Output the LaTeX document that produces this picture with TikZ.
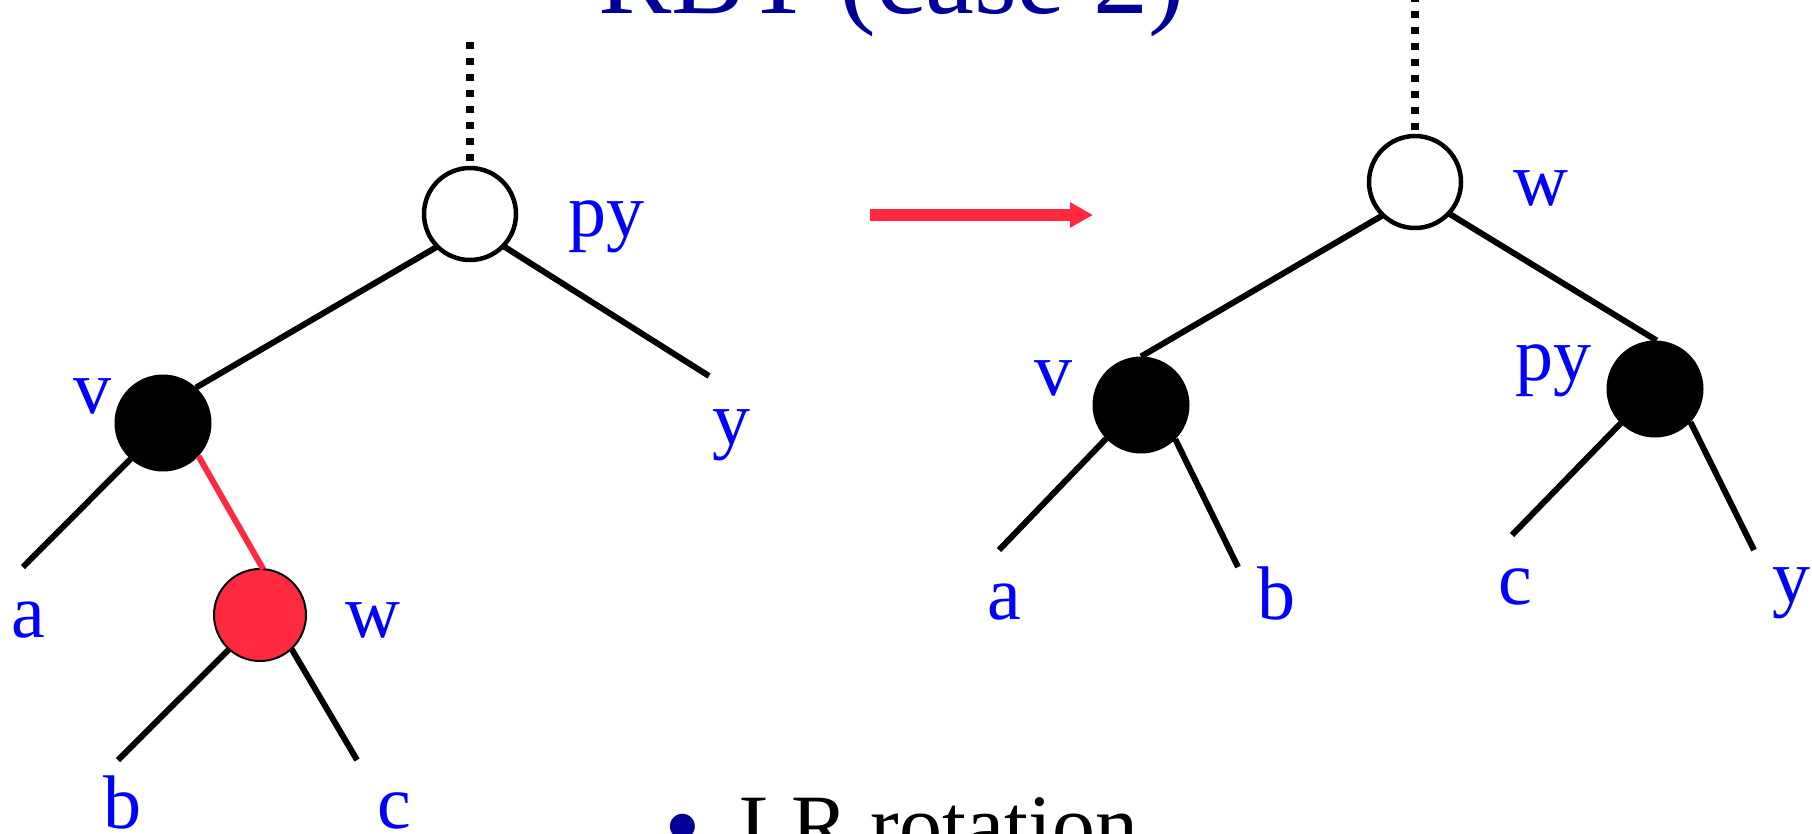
\documentclass[tikz,border=0pt]{standalone}
\usepackage{fontspec}
\setmainfont{Liberation Serif}
\usetikzlibrary{arrows.meta}
\definecolor{rbred}{RGB}{255,41,64}
\definecolor{labelblue}{RGB}{0,0,255}
\definecolor{titlenavy}{RGB}{0,0,153}

\begin{document}
\begin{tikzpicture}[
    x=1pt,y=-1pt,
    hollow/.style={circle,draw=black,fill=white,line width=4.5pt,
      minimum size=92pt,inner sep=0pt,outer sep=0pt},
    blacknode/.style={circle,fill=black,minimum size=97pt,inner sep=0pt,outer sep=0pt},
    rednode/.style={circle,draw=black,fill=rbred,line width=2pt,
      minimum size=92pt,inner sep=0pt,outer sep=0pt},
    lbl/.style={anchor=base,inner sep=0pt,text=labelblue,font=\fontsize{76}{80}\selectfont},
    branch/.style={line width=6pt},
    redbranch/.style={line width=6pt,draw=rbred},
    dots/.style={line width=8pt,dash pattern=on 7pt off 9pt},
    arrow/.style={line width=12pt,draw=rbred,-{Triangle[length=23pt,width=24pt]}}
  ]
    \useasboundingbox (0,0) rectangle (1812,833);

    % headings
    \node[anchor=base east,inner sep=0pt,text=titlenavy,font=\fontsize{110}{120}\selectfont]
      (title) at (1185,13) {RBT (case 2)};
    \node[anchor=base west,inner sep=0pt,text=titlenavy,font=\fontsize{105}{110}\selectfont]
      (bullet) at (664,861) {•};
    \node[anchor=base west,inner sep=0pt,font=\fontsize{86}{90}\selectfont]
      (point) at (739,854) {LR rotation};

    % before the rotation
    \node[hollow] (py) at (470,214) {};
    \node[blacknode] (v) at (163,423) {};
    \node[rednode] (w) at (260,615) {};
    \coordinate (pytop) at (470,40);
    \coordinate (yend) at (709,376);
    \coordinate (aend) at (23,567);
    \coordinate (bend) at (118,760);
    \coordinate (cend) at (357,760);

    \draw[dots] ([yshift=7pt]py.north) -- (pytop);
    \draw[branch] (py.225) -- (v.47);
    \draw[branch] (py.316) -- (yend);
    \draw[branch] (v.228) -- (aend);
    \draw[redbranch] (v.317) -- (w.86);
    \draw[branch] (w.228) -- (bend);
    \draw[branch] (w.313) -- (cend);

    \node[lbl] (pylbl) at (606,236) {py};
    \node[lbl] (vlbl) at (92,413) {v};
    \node[lbl] (albl) at (28,637) {a};
    \node[lbl] (wlbl) at (373,637) {w};
    \node[lbl] (blbl) at (122,828) {b};
    \node[lbl] (clbl) at (394,828) {c};
    \node[lbl] (ylbl) at (731,444) {y};

    % rotation arrow
    \coordinate (arrowtail) at (870,215);
    \coordinate (arrowhead) at (1093,215);
    \draw[arrow] (arrowtail) -- (arrowhead);

    % after the rotation
    \node[hollow] (w2) at (1415,182) {};
    \node[blacknode] (v2) at (1141,405) {};
    \node[blacknode] (py2) at (1655,389) {};
    \coordinate (w2top) at (1415,0);
    \coordinate (a2end) at (999,550);
    \coordinate (b2end) at (1238,567);
    \coordinate (c2end) at (1512,535);
    \coordinate (y2end) at (1754,550);

    \draw[dots] ([yshift=6pt]w2.north) -- (w2top);
    \draw[branch] (w2.226) -- (v2.90);
    \draw[branch] (w2.317) -- (py2.88);
    \draw[branch] (v2.224) -- (a2end);
    \draw[branch] (v2.315) -- (b2end);
    \draw[branch] (py2.225) -- (c2end);
    \draw[branch] (py2.317) -- (y2end);

    \node[lbl] (w2lbl) at (1541,205) {w};
    \node[lbl] (v2lbl) at (1053,395) {v};
    \node[lbl] (py2lbl) at (1553,380) {py};
    \node[lbl] (a2lbl) at (1004,619) {a};
    \node[lbl] (b2lbl) at (1276,619) {b};
    \node[lbl] (c2lbl) at (1515,604) {c};
    \node[lbl] (y2lbl) at (1791,602) {y};
\end{tikzpicture}
\end{document}
